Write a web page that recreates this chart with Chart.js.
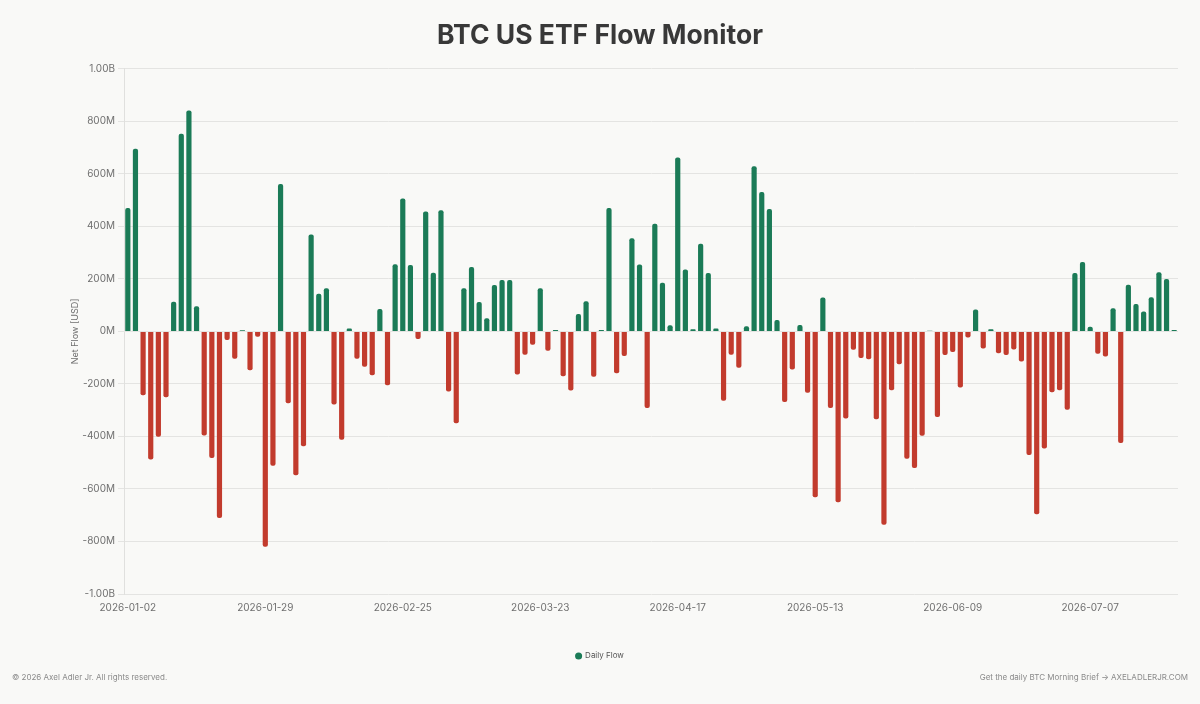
<!DOCTYPE html>
<html>
<head>
<meta charset="utf-8">
<script src="https://cdn.jsdelivr.net/npm/chart.js@4.4.1/dist/chart.umd.min.js"></script>
<style>
    html, body { margin: 0; padding: 0; background: #f9f9f7; }
    #wrap { position: relative; width: 1200px; height: 704px; }
    .foot { position: absolute; top: 672px; font: 8px Inter, sans-serif; color: #8a8a8a; }
    #foot-left  { left: 12px; }
    #foot-right { right: 12px; }
</style>
</head>
<body>
<div id="wrap">
    <canvas id="flowChart" width="1200" height="704"></canvas>
    <div class="foot" id="foot-left">© 2026 Axel Adler Jr. All rights reserved.</div>
    <div class="foot" id="foot-right">Get the daily BTC Morning Brief → AXELADLERJR.COM</div>
</div>
<script>
// ─── Data ──────────────────────────────────

const dates = [
    '2026-01-02','2026-01-05','2026-01-06','2026-01-07','2026-01-08','2026-01-09','2026-01-12','2026-01-13','2026-01-14','2026-01-15',
    '2026-01-16','2026-01-20','2026-01-21','2026-01-22','2026-01-23','2026-01-26','2026-01-27','2026-01-28','2026-01-29','2026-01-30',
    '2026-02-02','2026-02-03','2026-02-04','2026-02-05','2026-02-06','2026-02-09','2026-02-10','2026-02-11','2026-02-12','2026-02-13',
    '2026-02-17','2026-02-18','2026-02-19','2026-02-20','2026-02-23','2026-02-24','2026-02-25','2026-02-26','2026-02-27',
    '2026-03-02','2026-03-03','2026-03-04','2026-03-05','2026-03-06','2026-03-09','2026-03-10','2026-03-11','2026-03-12','2026-03-13',
    '2026-03-16','2026-03-17','2026-03-18','2026-03-19','2026-03-20','2026-03-23','2026-03-24','2026-03-25','2026-03-26','2026-03-27',
    '2026-03-30','2026-03-31',
    '2026-04-01','2026-04-02','2026-04-06','2026-04-07','2026-04-08','2026-04-09','2026-04-10','2026-04-13','2026-04-14','2026-04-15',
    '2026-04-16','2026-04-17','2026-04-20','2026-04-21','2026-04-22','2026-04-23','2026-04-24','2026-04-27','2026-04-28','2026-04-29',
    '2026-04-30',
    '2026-05-01','2026-05-04','2026-05-05','2026-05-06','2026-05-07','2026-05-08','2026-05-11','2026-05-12','2026-05-13','2026-05-14',
    '2026-05-15','2026-05-18','2026-05-19','2026-05-20','2026-05-21','2026-05-22','2026-05-26','2026-05-27','2026-05-28','2026-05-29',
    '2026-06-01','2026-06-02','2026-06-03','2026-06-04','2026-06-05','2026-06-08','2026-06-09','2026-06-10','2026-06-11','2026-06-12',
    '2026-06-15','2026-06-16','2026-06-17','2026-06-18','2026-06-22','2026-06-23','2026-06-24','2026-06-25','2026-06-26','2026-06-29',
    '2026-06-30',
    '2026-07-01','2026-07-02','2026-07-06','2026-07-07','2026-07-08','2026-07-09','2026-07-10','2026-07-13','2026-07-14','2026-07-15',
    '2026-07-16','2026-07-17','2026-07-20','2026-07-21','2026-07-22'
];

// net flow in millions of USD
const dailyFlow = [
    470, 696, -243, -488, -401, -251, 113, 753, 841, 96, -396, -482, -711, -33, -104, 4, -148, -20, -820, -512, 561, -274,
    -548, -437, 369, 143, 164, -278, -413, 11, -104, -135, -167, 85, -205, 256, 506, 253, -29, 457, 223, 461, -229, -350, 164,
    245, 112, 50, 177, 196, 196, -164, -89, -51, 164, -74, 5, -171, -225, 66, 115, -173, 5, 470, -159, -94, 355, 255, -292,
    410, 185, 23, 662, 236, 8, 334, 222, 11, -264, -89, -138, 20, 629, 531, 466, 43, -269, -145, 24, -234, -632, 129,
    -292, -651, -332, -70, -101, -106, -335, -736, -224, -125, -485, -520, -397, 2, -326, -90, -78, -214, -23, 83, -65, 8, -83, -90,
    -69, -115, -471, -696, -446, -232, -224, -298, 222, 264, 18, -85, -96, 88, -425, 178, 104, 76, 130, 225, 200, 5
];

const yMin = -1000;
const yMax = 1000;
const yStep = 200;
const xTickEvery = 18;

const GREEN = '#1b7b57';
const RED   = '#c23b2d';

// ─── Chart ─────────────────────────────────

const fmtFlow = v => Math.abs(v) >= 1000 ? (v / 1000).toFixed(2) + 'B' : v + 'M';

new Chart(document.getElementById('flowChart').getContext('2d'), {
    type: 'bar',
    data: {
        labels: dates,
        datasets: [{
            label: 'Daily Flow',
            data: dailyFlow,
            backgroundColor: dailyFlow.map(v => v >= 0 ? GREEN : RED),
            borderRadius: 2,
            categoryPercentage: 1,
            barPercentage: 0.68
        }]
    },
    options: {
        responsive: false,
        animation: false,
        layout: { padding: { left: 22, right: 22, top: 0, bottom: 34 } },
        plugins: {
            title: {
                display: true,
                text: 'BTC US ETF Flow Monitor',
                color: '#383838',
                font: { family: 'Inter', size: 26.5, weight: '700' },
                padding: { top: 20, bottom: 17 }
            },
            legend: {
                position: 'bottom',
                labels: {
                    usePointStyle: true,
                    pointStyle: 'circle',
                    boxWidth: 5,
                    boxHeight: 5,
                    color: '#555',
                    font: { family: 'Inter', size: 8 },
                    padding: 10
                }
            },
            tooltip: { enabled: false }
        },
        scales: {
            x: {
                afterFit: s => { s.height += 20; },
                grid: { display: false, drawTicks: false },
                border: { display: false },
                ticks: {
                    autoSkip: false,
                    maxRotation: 0,
                    padding: 8,
                    color: '#6f6f6f',
                    font: { family: 'Inter', size: 10 },
                    callback: (v, i) => i % xTickEvery === 0 ? dates[i] : ''
                }
            },
            y: {
                min: yMin,
                max: yMax,
                afterFit: s => { s.width = 102; },
                grid: { color: '#e4e4e2', tickLength: 6 },
                border: { display: true, color: '#e0e0de' },
                ticks: {
                    stepSize: yStep,
                    padding: 3,
                    color: '#6f6f6f',
                    font: { family: 'Inter', size: 10 },
                    callback: v => fmtFlow(v)
                },
                title: {
                    display: true,
                    text: 'Net Flow [USD]',
                    color: '#6f6f6f',
                    font: { family: 'Inter', size: 9 },
                    padding: { top: 48, bottom: 4 }
                }
            }
        }
    }
});
</script>
</body>
</html>
